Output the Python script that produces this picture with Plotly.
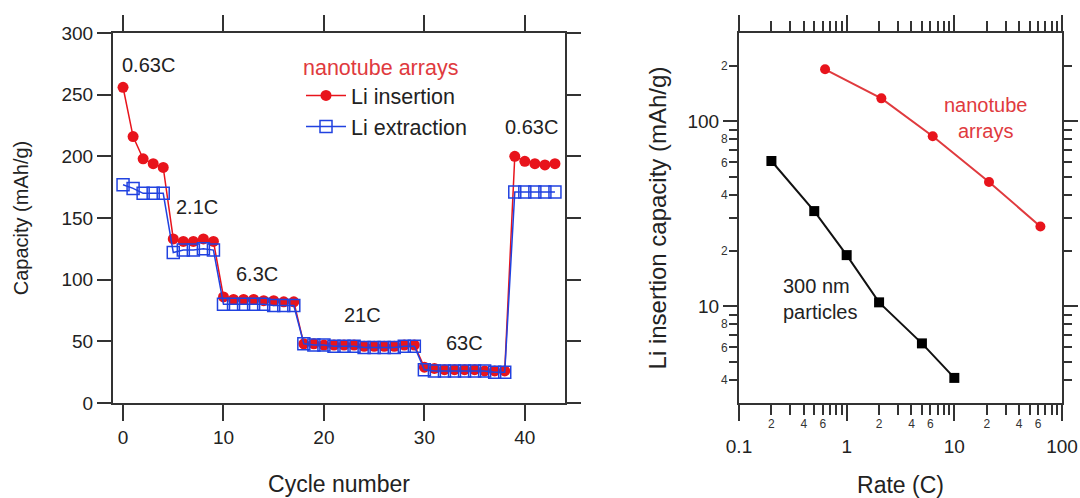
import plotly.graph_objects as go
import math

# ---------------- data ----------------
cycles = list(range(0, 44))
li_insertion = [256, 216, 198, 194, 191,
                133, 131, 131, 133, 131,
                86, 84, 84, 84, 83, 83, 82, 82,
                48, 48, 47, 47, 47, 47, 46, 46, 46, 46, 47, 47,
                29, 28, 27, 27, 27, 27, 26, 26, 26,
                200, 196, 194, 193, 194]
li_extraction = [177, 174, 170, 170, 170,
                 122, 124, 124, 125, 124,
                 80, 80, 80, 80, 80, 79, 79, 79,
                 48, 47, 47, 46, 46, 46, 45, 45, 45, 45, 46, 46,
                 27, 26, 26, 26, 26, 26, 26, 25, 25,
                 171, 171, 171, 171, 171]

rate_labels = ["0.63C", "2.1C", "6.3C", "21C", "63C", "0.63C"]
rate_label_x = [2.5, 7.4, 13.3, 23.8, 34.0, 40.7]
rate_label_y = [274, 159, 105, 71, 49, 224]

nanotube_rate = [0.63, 2.1, 6.3, 21, 63]
nanotube_cap = [191, 133, 83, 47, 27]
particle_rate = [0.2, 0.5, 1, 2, 5, 10]
particle_cap = [61, 32.7, 18.9, 10.5, 6.3, 4.1]

left_xticks = [0, 10, 20, 30, 40]
left_yticks = [0, 50, 100, 150, 200, 250, 300]
log_x_major = [0.1, 1, 10, 100]
log_x_major_text = ["0.1", "1", "10", "100"]
log_x_minor = [m * d for d in (0.1, 1, 10) for m in range(2, 10)]
log_x_minor_labels_vals = [m * d for d in (0.1, 1, 10) for m in (2, 4, 6)]
log_x_minor_labels_text = ["2", "4", "6"] * 3
log_y_major = [10, 100]
log_y_major_text = ["10", "100"]
log_y_minor = [4, 5, 6, 7, 8, 9, 20, 30, 40, 50, 60, 70, 80, 90, 200]
log_y_minor_labels_vals = [4, 6, 8, 20, 40, 60, 80, 200]
log_y_minor_labels_text = ["4", "6", "8", "2", "4", "6", "8", "2"]

RED = "#e8141c"
RED2 = "#e03a3e"
BLUE = "#2142e0"
AX = "#333333"
TXT = "#222222"
FONT = "Liberation Sans, Arial, Helvetica, sans-serif"

W, H = 1080, 498


def fx(px):
    return px / W


fig = go.Figure()

fig.add_trace(go.Scatter(
    x=cycles, y=li_insertion, mode="lines+markers", name="Li insertion",
    line=dict(color=RED, width=1.5),
    marker=dict(symbol="circle", size=11, color=RED),
    xaxis="x", yaxis="y"))
fig.add_trace(go.Scatter(
    x=cycles, y=li_extraction, mode="lines+markers", name="Li extraction",
    line=dict(color=BLUE, width=1.5),
    marker=dict(symbol="square-open", size=12, color=BLUE, line=dict(width=1.5, color=BLUE)),
    xaxis="x", yaxis="y"))

fig.add_trace(go.Scatter(
    x=nanotube_rate, y=nanotube_cap, mode="lines+markers", showlegend=False,
    line=dict(color=RED2, width=2),
    marker=dict(symbol="circle", size=10, color=RED),
    xaxis="x2", yaxis="y2"))
fig.add_trace(go.Scatter(
    x=particle_rate, y=particle_cap, mode="lines+markers", showlegend=False,
    line=dict(color="#111111", width=2),
    marker=dict(symbol="square", size=10, color="#000000"),
    xaxis="x2", yaxis="y2"))

# invisible copies so that the overlay label axes are drawn
fig.add_trace(go.Scatter(x=particle_rate, y=particle_cap, mode="markers",
                         marker=dict(opacity=0), showlegend=False, hoverinfo="skip",
                         xaxis="x3", yaxis="y2"))
fig.add_trace(go.Scatter(x=particle_rate, y=particle_cap, mode="markers",
                         marker=dict(opacity=0), showlegend=False, hoverinfo="skip",
                         xaxis="x2", yaxis="y3"))

common = dict(showline=True, linecolor=AX, linewidth=2, ticks="outside",
              tickcolor=AX, tickwidth=1.5, mirror="ticks", showgrid=False,
              zeroline=False, automargin=False, tickfont=dict(size=19, color=TXT))

annotations = []
for t, x, y in zip(rate_labels, rate_label_x, rate_label_y):
    annotations.append(dict(text=t, x=x, y=y, xref="x", yref="y", showarrow=False,
                            font=dict(size=20, color=TXT)))
annotations.append(dict(text="nanotube<br>arrays", x=math.log10(19.5), y=math.log10(104),
                        xref="x2", yref="y2", showarrow=False, align="center",
                        font=dict(size=20, color=RED2)))
annotations.append(dict(text="300 nm<br>particles", x=math.log10(0.245), y=math.log10(11.0),
                        xref="x2", yref="y2", showarrow=False, align="left", xanchor="left",
                        font=dict(size=20, color=TXT)))

fig.update_layout(
    width=W, height=H,
    margin=dict(l=0, r=0, t=33, b=H - 403.5),
    paper_bgcolor="white", plot_bgcolor="white",
    font=dict(family=FONT, size=18, color=TXT),
    xaxis=dict(domain=[fx(113), fx(565)], range=[-1, 44], tickvals=left_xticks,
               ticklen=16, anchor="y",
               title=dict(text="Cycle number", font=dict(size=23), standoff=29), **common),
    yaxis=dict(domain=[0, 1], range=[0, 300], tickvals=left_yticks, ticklen=14, anchor="x",
               title=dict(text="Capacity (mAh/g)", font=dict(size=20), standoff=27), **common),
    xaxis2=dict(domain=[fx(739), fx(1062)], type="log", range=[-1, 2],
                tickvals=log_x_major, ticktext=log_x_major_text, ticklen=16, anchor="y2",
                ticklabelstandoff=9,
                minor=dict(tickmode="array", tickvals=log_x_minor, ticklen=10,
                           ticks="outside", tickcolor=AX, tickwidth=1.5),
                title=dict(text="Rate (C)", font=dict(size=23), standoff=25), **common),
    yaxis2=dict(domain=[0, 1], type="log", range=[math.log10(3), math.log10(300)],
                tickvals=log_y_major, ticktext=log_y_major_text, ticklen=14, anchor="x2",
                minor=dict(tickmode="array", tickvals=log_y_minor, ticklen=8,
                           ticks="outside", tickcolor=AX, tickwidth=1.5),
                title=dict(text="Li insertion capacity (mAh/g)", font=dict(size=24), standoff=14),
                **common),
    xaxis3=dict(overlaying="x2", anchor="y2", side="bottom", type="log", range=[-1, 2],
                tickvals=log_x_minor_labels_vals, ticktext=log_x_minor_labels_text,
                ticks="outside", ticklen=10, tickcolor="rgba(0,0,0,0)",
                showline=False, showgrid=False, zeroline=False, automargin=False,
                tickfont=dict(size=12, color="#333")),
    yaxis3=dict(overlaying="y2", anchor="x2", side="left", type="log",
                range=[math.log10(3), math.log10(300)],
                tickvals=log_y_minor_labels_vals, ticktext=log_y_minor_labels_text,
                ticks="outside", ticklen=8, tickcolor="rgba(0,0,0,0)",
                showline=False, showgrid=False, zeroline=False, automargin=False,
                tickfont=dict(size=12, color="#333")),
    legend=dict(x=fx(301), y=0.962, xanchor="left", yanchor="top",
                bgcolor="rgba(0,0,0,0)", font=dict(size=21.5, color=TXT),
                title=dict(text="nanotube arrays", font=dict(size=21.5, color=RED2)),
                tracegroupgap=0, itemwidth=40),
    annotations=annotations,
)

# remove the default 8px page margin so the 1080x498 figure fills the window exactly
fig.write_html("out.html", config={"displayModeBar": False},
               post_script="document.body.style.margin='0';")
